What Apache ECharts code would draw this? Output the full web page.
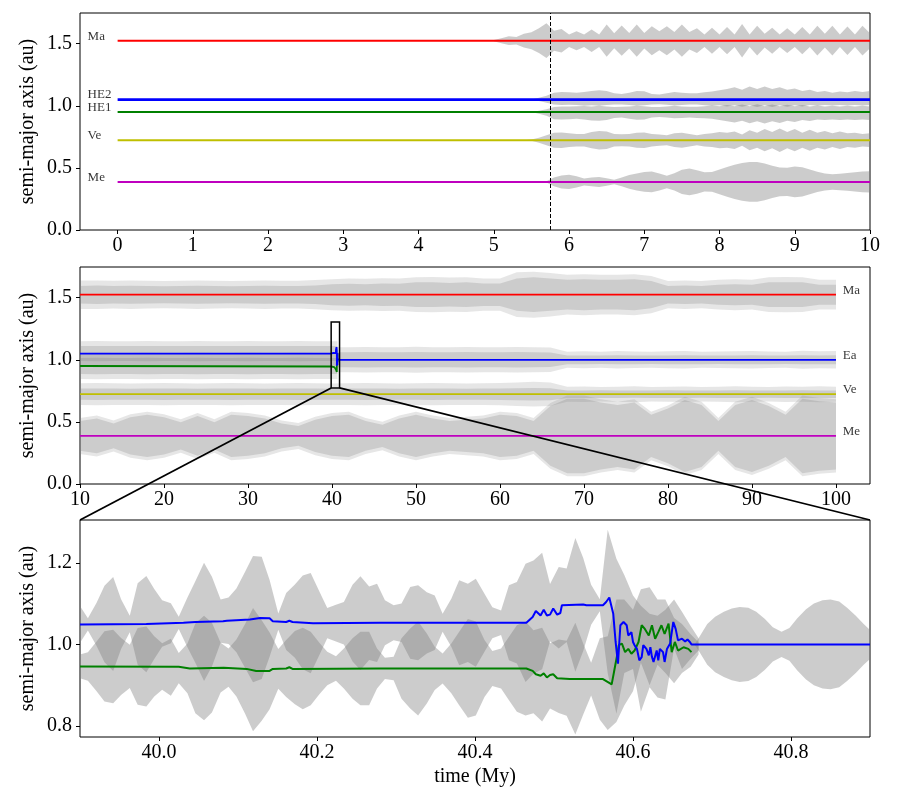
<!DOCTYPE html>
<html>
<head>
<meta charset="utf-8">
<script src="https://cdn.jsdelivr.net/npm/echarts@6/dist/echarts.min.js"></script>
<style>html,body{margin:0;padding:0;background:#fff}#main{width:900px;height:802px}</style>
</head>
<body>
<div id="main"></div>
<script>
// ---------- data ----------
// top panel: 0-10 My, HE1/HE2 still separate
var namesTop = ['Ma', 'HE2', 'HE1', 'Ve', 'Me'];
var aTop = [1.524, 1.05, 0.95, 0.723, 0.387];
var tLineTop = [0, 10];
var tSplit = 5.745; // dashed line
var tTop = [5.0,5.1,5.2,5.3,5.4,5.5,5.6,5.7,5.8,5.9,6.0,6.1,6.2,6.3,6.4,6.5,6.6,6.7,6.8,6.9,7.0,7.1,7.2,7.3,7.4,7.5,7.6,7.7,7.8,7.9,8.0,8.1,8.2,8.3,8.4,8.5,8.6,8.7,8.8,8.9,9.0,9.1,9.2,9.3,9.4,9.5,9.6,9.7,9.8,9.9,10.0];
var dMaTop = [0.005,0.02,0.035,0.03,0.055,0.068,0.1,0.14,0.08,0.095,0.05,0.076,0.05,0.09,0.05,0.13,0.06,0.122,0.062,0.13,0.062,0.117,0.076,0.117,0.07,0.13,0.07,0.1,0.05,0.105,0.05,0.11,0.05,0.135,0.05,0.12,0.055,0.105,0.05,0.1,0.05,0.11,0.05,0.12,0.055,0.12,0.05,0.115,0.05,0.12,0.06];
var dHE2upTop = [0,0,0,0,0,0,0.015,0.03,0.055,0.062,0.058,0.055,0.06,0.07,0.075,0.07,0.05,0.045,0.055,0.07,0.068,0.045,0.04,0.05,0.062,0.055,0.05,0.05,0.058,0.065,0.075,0.085,0.1,0.08,0.105,0.085,0.105,0.085,0.1,0.08,0.09,0.07,0.08,0.062,0.07,0.055,0.065,0.058,0.07,0.06,0.07];
var dHE2dnTop = [0,0,0,0,0,0,0.012,0.025,0.04,0.044,0.042,0.044,0.05,0.045,0.05,0.044,0.04,0.04,0.044,0.05,0.045,0.04,0.038,0.042,0.048,0.044,0.04,0.04,0.045,0.05,0.045,0.055,0.045,0.058,0.045,0.06,0.045,0.06,0.045,0.058,0.045,0.055,0.044,0.05,0.044,0.048,0.044,0.048,0.044,0.048,0.044];
var dHE1upTop = [0,0,0,0,0,0,0.01,0.022,0.04,0.045,0.044,0.046,0.048,0.044,0.05,0.045,0.04,0.042,0.045,0.05,0.046,0.04,0.04,0.044,0.05,0.045,0.042,0.042,0.046,0.052,0.046,0.056,0.046,0.06,0.046,0.062,0.046,0.06,0.046,0.058,0.046,0.056,0.045,0.052,0.045,0.05,0.045,0.05,0.045,0.05,0.045];
var dHE1dnTop = [0,0,0,0,0,0,0.015,0.03,0.058,0.06,0.058,0.055,0.06,0.068,0.07,0.065,0.048,0.045,0.055,0.062,0.06,0.045,0.04,0.045,0.05,0.048,0.045,0.048,0.05,0.055,0.065,0.075,0.085,0.07,0.09,0.075,0.092,0.075,0.088,0.07,0.08,0.065,0.072,0.06,0.065,0.06,0.065,0.06,0.065,0.06,0.065];
var dVeTop = [0,0,0,0,0,0.005,0.02,0.04,0.06,0.062,0.055,0.05,0.05,0.065,0.075,0.07,0.05,0.048,0.05,0.06,0.062,0.05,0.045,0.04,0.055,0.06,0.05,0.04,0.05,0.055,0.065,0.06,0.07,0.045,0.08,0.06,0.09,0.065,0.095,0.065,0.09,0.06,0.085,0.06,0.075,0.055,0.07,0.055,0.06,0.05,0.055];
var dMeTop = [0,0,0,0,0,0,0,0.005,0.035,0.052,0.057,0.045,0.028,0.035,0.04,0.03,0.018,0.035,0.055,0.068,0.08,0.083,0.068,0.05,0.07,0.098,0.108,0.095,0.078,0.08,0.1,0.12,0.138,0.152,0.16,0.16,0.148,0.13,0.116,0.114,0.124,0.118,0.1,0.082,0.068,0.062,0.066,0.072,0.078,0.083,0.086];

// middle panel: 10-100 My (core = dense part, peak = spike tips)
var namesMid = ['Ma', 'Ea', 'Ve', 'Me'];
var aMid = [1.524, 1.0, 0.723, 0.387];
var tLineMid = [10, 100];
var tMid = [10,12,14,16,18,20,22,24,26,28,30,32,34,36,38,40,42,44,46,48,50,52,54,56,58,60,62,64,66,68,70,72,74,76,78,80,82,84,86,88,90,92,94,96,98,100];
var cMaMid = [0.07,0.075,0.07,0.072,0.07,0.068,0.07,0.072,0.07,0.068,0.07,0.072,0.07,0.07,0.075,0.085,0.088,0.085,0.09,0.088,0.1,0.1,0.095,0.1,0.09,0.09,0.13,0.14,0.13,0.12,0.125,0.12,0.12,0.125,0.11,0.07,0.075,0.07,0.08,0.085,0.08,0.1,0.1,0.1,0.08,0.08];
var pMaMid = [0.115,0.115,0.112,0.115,0.112,0.11,0.112,0.115,0.112,0.11,0.112,0.115,0.112,0.112,0.118,0.125,0.13,0.128,0.132,0.13,0.14,0.142,0.138,0.14,0.13,0.13,0.18,0.185,0.175,0.16,0.165,0.16,0.16,0.165,0.15,0.11,0.115,0.11,0.12,0.125,0.12,0.14,0.142,0.14,0.12,0.12];
var tMidHE = [10,12,14,16,18,20,22,24,26,28,30,32,34,36,38,40,40.65];
var cHE2Mid = [0.06,0.062,0.06,0.06,0.062,0.06,0.06,0.062,0.06,0.06,0.062,0.06,0.06,0.062,0.06,0.06,0.06];
var pHE2Mid = [0.1,0.102,0.1,0.1,0.102,0.1,0.1,0.102,0.1,0.1,0.102,0.1,0.1,0.102,0.1,0.1,0.1];
var cHE1Mid = [0.065,0.066,0.065,0.064,0.066,0.065,0.065,0.066,0.064,0.065,0.066,0.065,0.065,0.066,0.065,0.064,0.065];
var pHE1Mid = [0.105,0.106,0.105,0.104,0.106,0.105,0.105,0.106,0.104,0.105,0.106,0.105,0.105,0.106,0.105,0.104,0.105];
var tMidEa = [40.67,42,44,46,48,50,52,54,56,58,60,62,64,66,68,70,72,74,76,78,80,82,84,86,88,90,92,94,96,98,100];
var cEaMid = [0.06,0.06,0.062,0.06,0.06,0.062,0.06,0.06,0.062,0.06,0.06,0.062,0.06,0.058,0.035,0.035,0.034,0.036,0.035,0.034,0.035,0.036,0.035,0.034,0.035,0.036,0.035,0.034,0.036,0.035,0.036];
var pEaMid = [0.1,0.1,0.102,0.1,0.1,0.104,0.1,0.1,0.102,0.1,0.1,0.102,0.1,0.098,0.065,0.068,0.064,0.07,0.066,0.064,0.068,0.07,0.065,0.066,0.068,0.07,0.066,0.065,0.072,0.068,0.07];
var cVeMid = [0.045,0.046,0.045,0.044,0.045,0.046,0.045,0.044,0.045,0.046,0.045,0.044,0.045,0.046,0.045,0.044,0.045,0.046,0.045,0.044,0.045,0.046,0.045,0.044,0.045,0.046,0.048,0.05,0.048,0.03,0.03,0.031,0.03,0.029,0.03,0.031,0.03,0.029,0.03,0.031,0.03,0.029,0.03,0.031,0.03,0.03];
var pVeMid = [0.088,0.09,0.088,0.086,0.088,0.09,0.088,0.086,0.088,0.09,0.088,0.086,0.088,0.09,0.088,0.086,0.088,0.09,0.088,0.086,0.088,0.09,0.088,0.086,0.088,0.09,0.095,0.1,0.095,0.06,0.062,0.058,0.06,0.064,0.058,0.06,0.062,0.058,0.06,0.064,0.06,0.058,0.062,0.06,0.064,0.06];
var cMeMid = [0.12,0.14,0.1,0.15,0.17,0.15,0.11,0.16,0.11,0.17,0.16,0.14,0.1,0.08,0.13,0.16,0.17,0.12,0.09,0.14,0.17,0.14,0.12,0.13,0.14,0.17,0.16,0.12,0.24,0.3,0.3,0.27,0.25,0.27,0.17,0.22,0.29,0.25,0.12,0.25,0.29,0.24,0.17,0.3,0.28,0.27];
var pMeMid = [0.145,0.165,0.125,0.175,0.195,0.175,0.135,0.185,0.135,0.195,0.185,0.165,0.125,0.105,0.155,0.185,0.195,0.145,0.115,0.165,0.195,0.165,0.145,0.155,0.165,0.195,0.185,0.145,0.265,0.325,0.325,0.295,0.275,0.295,0.195,0.245,0.315,0.275,0.145,0.275,0.315,0.265,0.195,0.325,0.305,0.295];

// bottom panel: zoom on the HE1/HE2 merger
var zoomX = [39.9, 40.9];
var zoomY = [0.773, 1.305];
var tZoom = [39.900,39.910,39.921,39.931,39.942,39.952,39.963,39.973,39.984,39.994,40.004,40.015,40.025,40.036,40.046,40.057,40.067,40.078,40.088,40.098,40.109,40.119,40.130,40.140,40.151,40.161,40.172,40.182,40.192,40.203,40.213,40.224,40.234,40.245,40.255,40.266,40.276,40.286,40.297,40.307,40.318,40.328,40.339,40.349,40.359,40.370,40.380,40.391,40.401,40.412,40.422,40.433,40.443,40.453,40.464,40.474,40.485,40.495,40.506,40.516,40.527,40.537,40.547,40.558,40.568,40.579,40.589,40.600,40.610,40.621,40.631,40.641,40.652,40.662,40.673,40.683];
var aHE2z = [1.049,1.049,1.049,1.05,1.05,1.05,1.05,1.05,1.05,1.05,1.051,1.052,1.053,1.054,1.055,1.055,1.056,1.057,1.058,1.059,1.06,1.062,1.065,1.064,1.056,1.056,1.057,1.054,1.052,1.052,1.052,1.052,1.052,1.052,1.052,1.052,1.053,1.053,1.053,1.053,1.053,1.053,1.053,1.053,1.053,1.053,1.053,1.053,1.053,1.053,1.053,1.053,1.053,1.053,1.053,1.067,1.082,1.078,1.09,1.096,1.097,1.098,1.097,1.096,1.105,1.02,1.05,1.03,0.965,0.985,0.97,0.975,1.05,1.01,1.005,1.0];
var aHE1z = [0.946,0.946,0.946,0.946,0.946,0.946,0.946,0.946,0.946,0.946,0.946,0.944,0.942,0.941,0.941,0.942,0.943,0.943,0.943,0.942,0.94,0.938,0.936,0.935,0.94,0.941,0.943,0.941,0.941,0.941,0.941,0.941,0.941,0.941,0.941,0.941,0.941,0.941,0.941,0.941,0.941,0.941,0.941,0.941,0.941,0.941,0.941,0.941,0.941,0.941,0.941,0.941,0.941,0.941,0.941,0.933,0.926,0.923,0.922,0.917,0.916,0.915,0.915,0.915,0.905,0.96,0.98,0.985,1.045,1.02,1.03,1.02,0.985,0.99,0.985,0.99];
var dHE2z = [0.045,0.015,0.053,0.094,0.115,0.061,0.02,0.1,0.118,0.086,0.057,0.049,0.015,0.061,0.1,0.145,0.11,0.053,0.057,0.078,0.118,0.155,0.15,0.094,0.02,0.07,0.09,0.115,0.123,0.078,0.037,0.045,0.052,0.094,0.115,0.09,0.096,0.055,0.043,0.047,0.088,0.092,0.075,0.067,0.022,0.059,0.104,0.096,0.108,0.071,0.038,0.03,0.092,0.1,0.145,0.139,0.143,0.07,0.1,0.09,0.164,0.114,0.049,0.015,0.176,0.19,0.12,0.09,0.13,0.09,0.1,0.11,0.06,0.07,0.04,0.015];
var dHE1z = [0.029,0.035,0.061,0.086,0.09,0.07,0.053,0.094,0.098,0.074,0.057,0.07,0.037,0.061,0.11,0.128,0.11,0.061,0.047,0.07,0.11,0.151,0.123,0.094,0.049,0.07,0.09,0.1,0.09,0.063,0.041,0.03,0.049,0.074,0.09,0.09,0.049,0.026,0.029,0.074,0.098,0.115,0.086,0.053,0.037,0.061,0.09,0.121,0.115,0.07,0.043,0.049,0.078,0.106,0.115,0.102,0.115,0.08,0.09,0.092,0.137,0.087,0.04,0.1,0.115,0.15,0.13,0.1,0.09,0.12,0.08,0.09,0.08,0.06,0.04,0.015];
var tEaZ = [40.678,40.683,40.694,40.704,40.715,40.725,40.735,40.746,40.756,40.767,40.777,40.788,40.798,40.808,40.819,40.829,40.840,40.850,40.861,40.871,40.882,40.892,40.902];
var dEaZ = [0.0,0.015,0.05,0.068,0.08,0.088,0.092,0.09,0.08,0.062,0.042,0.031,0.04,0.064,0.086,0.1,0.108,0.11,0.105,0.09,0.07,0.05,0.032];
// semi-major axis of HE2 (then Ea) and HE1 through the merger
var tBlue = [39.900,39.984,40.031,40.046,40.081,40.086,40.115,40.128,40.140,40.144,40.161,40.165,40.169,40.195,40.280,40.465,40.473,40.477,40.483,40.487,40.491,40.495,40.499,40.504,40.508,40.510,40.537,40.539,40.541,40.562,40.566,40.570,40.575,40.578,40.581,40.584,40.588,40.592,40.594,40.598,40.600,40.602,40.605,40.608,40.611,40.613,40.617,40.620,40.622,40.624,40.626,40.630,40.632,40.634,40.638,40.640,40.643,40.647,40.651,40.654,40.657,40.662,40.666,40.669,40.672,40.674,40.900];
var aBlue = [1.049,1.05,1.053,1.055,1.057,1.058,1.061,1.065,1.064,1.057,1.055,1.058,1.055,1.052,1.053,1.053,1.067,1.082,1.071,1.085,1.071,1.073,1.088,1.073,1.077,1.096,1.098,1.102,1.096,1.096,1.104,1.115,1.075,1.006,0.953,1.047,1.055,1.047,1.022,1.03,1.006,0.998,0.989,0.961,0.969,0.998,0.989,0.973,0.993,0.969,0.957,0.985,0.961,0.989,0.981,0.957,0.989,1.002,1.055,1.038,1.01,1.014,1.007,1.012,1.006,1.0,1.0];
var tGreen = [39.900,40.025,40.039,40.082,40.111,40.123,40.140,40.144,40.161,40.165,40.169,40.280,40.465,40.473,40.477,40.483,40.487,40.491,40.495,40.499,40.504,40.520,40.562,40.573,40.576,40.580,40.582,40.586,40.590,40.594,40.598,40.602,40.607,40.611,40.615,40.620,40.624,40.628,40.632,40.636,40.640,40.645,40.649,40.653,40.657,40.664,40.670,40.674];
var aGreen = [0.946,0.945,0.941,0.943,0.94,0.935,0.935,0.94,0.941,0.944,0.94,0.941,0.941,0.935,0.927,0.923,0.929,0.919,0.925,0.927,0.917,0.915,0.915,0.902,0.933,0.974,0.998,1.002,0.981,0.989,0.977,0.985,1.006,1.047,1.038,1.022,1.047,1.014,1.03,1.047,1.026,1.051,0.981,1.006,0.985,0.993,0.989,0.981];

// tick labels
var xTicksTop = [0,1,2,3,4,5,6,7,8,9,10];
var xTicksMid = [10,20,30,40,50,60,70,80,90,100];
var xTicksBot = [40.0,40.2,40.4,40.6,40.8];
var yTicksTop = [0.0,0.5,1.0,1.5];
var yTicksBot = [0.8,1.0,1.2];

// ---------- helpers ----------
var FONT = 'Liberation Serif';
var GRAY = 'rgba(128,128,128,';

function pairs(t, a) {
	return t.map(function (x, i) { return [x, Array.isArray(a) ? a[i] : a]; });
}

// filled band between a-dDn and a+dUp, drawn as one polygon
function band(gi, t, center, dUp, dDn, alpha) {
	var n = Math.min(t.length, dUp.length, dDn.length);
	var data = [];
	for (var i = 0; i < n; i++) {
		var c = Array.isArray(center) ? center[i] : center;
		data.push([t[i], c - dDn[i], c + dUp[i]]);
	}
	return {
		type: 'custom', xAxisIndex: gi, yAxisIndex: gi, silent: true, clip: true, z: 1,
		encode: {x: 0, y: [1, 2]},
		data: data,
		renderItem: function (params, api) {
			if (params.dataIndexInside !== 0) return null;
			var up = [], dn = [];
			for (var k = 0; k < params.dataInsideLength; k++) {
				up.push(api.coord([api.value(0, k), api.value(2, k)]));
				dn.push(api.coord([api.value(0, k), api.value(1, k)]));
			}
			return {
				type: 'polygon',
				shape: {points: up.concat(dn.reverse())},
				style: {fill: GRAY + alpha + ')', stroke: null}
			};
		}
	};
}

function line(gi, pts, color, w) {
	return {
		type: 'line', xAxisIndex: gi, yAxisIndex: gi, data: pts, symbol: 'none', showSymbol: false,
		silent: true, z: 3, lineStyle: {color: color, width: w}
	};
}

function labels(gi, x, names, vals) {
	return {
		type: 'scatter', xAxisIndex: gi, yAxisIndex: gi, symbolSize: 0.1, silent: true, z: 5,
		itemStyle: {color: 'rgba(0,0,0,0)'},
		data: names.map(function (n, i) { return {name: n, value: [x, vals[i]]}; }),
		label: {
			show: true, formatter: '{b}', position: 'right', distance: 0, verticalAlign: 'bottom',
			offset: [0, 2], color: '#000', fontFamily: FONT, fontSize: 13
		}
	};
}

function xAx(gi, min, max, ticks, digits, name) {
	return {
		type: 'value', gridIndex: gi, min: min, max: max,
		name: name || '', nameLocation: 'middle', nameGap: 30, nameMoveOverlap: false,
		nameTextStyle: {fontFamily: FONT, fontSize: 20, color: '#000'},
		axisLine: {show: false, onZero: false}, splitLine: {show: false},
		axisTick: {show: true, inside: false, length: 4, lineStyle: {color: '#000', width: 1}, customValues: ticks},
		axisLabel: {margin: 6, color: '#000', fontFamily: FONT, fontSize: 20, customValues: ticks,
			formatter: function (v) { return (+v).toFixed(digits); }}
	};
}

function yAx(gi, min, max, ticks) {
	return {
		type: 'value', gridIndex: gi, min: min, max: max,
		name: 'semi-major axis (au)', nameLocation: 'middle', nameGap: 42, nameMoveOverlap: false,
		nameTextStyle: {fontFamily: FONT, fontSize: 20, color: '#000'},
		axisLine: {show: false, onZero: false}, splitLine: {show: false},
		axisTick: {show: true, inside: false, length: 4, lineStyle: {color: '#000', width: 1}, customValues: ticks},
		axisLabel: {margin: 8, color: '#000', fontFamily: FONT, fontSize: 20, customValues: ticks,
			formatter: function (v) { return (+v).toFixed(1); }}
	};
}

function grid(top) {
	return {left: 80, right: 30, top: top, height: 217, show: true, borderColor: '#000', borderWidth: 1,
		containLabel: false, outerBoundsMode: 'none'};
}

// ---------- series ----------
var series = [];
// top
series.push(band(0, tTop, aTop[0], dMaTop, dMaTop, 0.4));
series.push(band(0, tTop, aTop[1], dHE2upTop, dHE2dnTop, 0.4));
series.push(band(0, tTop, aTop[2], dHE1upTop, dHE1dnTop, 0.4));
series.push(band(0, tTop, aTop[3], dVeTop, dVeTop, 0.4));
series.push(band(0, tTop, aTop[4], dMeTop, dMeTop, 0.4));
var topColors = ['#ff0000', '#0000ff', '#008000', '#bfbf00', '#bf00bf'];
var topWidths = [2, 2.6, 2.2, 2, 2];
aTop.forEach(function (a, i) {
	var s = line(0, pairs(tLineTop, a), topColors[i], topWidths[i]);
	if (i === 0) {
		s.markLine = {
			symbol: 'none', silent: true, label: {show: false}, animation: false,
			lineStyle: {color: '#000', width: 1, type: [4, 2]},
			data: [{xAxis: tSplit}]
		};
	}
	series.push(s);
});
series.push(labels(0, -0.4, namesTop, aTop));

// middle: spike tips (light) then dense core
[[tMid, aMid[0], pMaMid, cMaMid], [tMidHE, aTop[1], pHE2Mid, cHE2Mid], [tMidHE, aTop[2], pHE1Mid, cHE1Mid],
 [tMidEa, aMid[1], pEaMid, cEaMid], [tMid, aMid[2], pVeMid, cVeMid], [tMid, aMid[3], pMeMid, cMeMid]].forEach(function (b) {
	series.push(band(1, b[0], b[1], b[2], b[2], 0.2));
	series.push(band(1, b[0], b[1], b[3], b[3], 0.25));
});
series.push(line(1, pairs(tLineMid, aMid[0]), '#ff0000', 1.8));
series.push(line(1, pairs(tLineMid, aMid[2]), '#bfbf00', 1.8));
series.push(line(1, pairs(tLineMid, aMid[3]), '#bf00bf', 1.8));
series.push(line(1, [[tLineMid[0], aTop[2]]].concat(pairs(tGreen, aGreen)), '#008000', 1.8));
series.push(line(1, [[tLineMid[0], aTop[1]]].concat(pairs(tBlue, aBlue), [[tLineMid[1], aMid[1]]]), '#0000ff', 1.8));
series.push(labels(1, 100.8, namesMid, aMid));

// bottom
series.push(band(2, tZoom, aHE2z, dHE2z, dHE2z, 0.4));
series.push(band(2, tZoom, aHE1z, dHE1z, dHE1z, 0.4));
series.push(band(2, tEaZ, aMid[1], dEaZ, dEaZ, 0.4));
series.push(line(2, pairs(tGreen, aGreen), '#008000', 2));
series.push(line(2, pairs(tBlue, aBlue), '#0000ff', 2));

var chart = echarts.init(document.getElementById('main'), null, {renderer: 'canvas'});
chart.setOption({
	animation: false,
	backgroundColor: '#fff',
	grid: [grid(13), grid(267), grid(520)],
	xAxis: [
		xAx(0, -0.5, 10, xTicksTop, 0),
		xAx(1, 10, 104.05, xTicksMid, 0),
		xAx(2, zoomX[0], zoomX[1], xTicksBot, 1, 'time (My)')
	],
	yAxis: [
		yAx(0, 0, 1.747, yTicksTop),
		yAx(1, 0, 1.747, yTicksTop),
		yAx(2, zoomY[0], zoomY[1], yTicksBot)
	],
	series: series
});

// zoom box in the middle panel and connectors to the bottom panel
var p1 = chart.convertToPixel({xAxisIndex: 1, yAxisIndex: 1}, [zoomX[0], zoomY[0]]);
var p2 = chart.convertToPixel({xAxisIndex: 1, yAxisIndex: 1}, [zoomX[1], zoomY[1]]);
var q1 = chart.convertToPixel({xAxisIndex: 2, yAxisIndex: 2}, [zoomX[0], zoomY[1]]);
var q2 = chart.convertToPixel({xAxisIndex: 2, yAxisIndex: 2}, [zoomX[1], zoomY[1]]);
chart.setOption({
	graphic: [
		{type: 'rect', z: 100, silent: true, shape: {x: p1[0], y: p2[1], width: p2[0] - p1[0], height: p1[1] - p2[1]},
			style: {fill: 'none', stroke: '#000', lineWidth: 1.5}},
		{type: 'line', z: 100, silent: true, shape: {x1: p1[0], y1: p1[1], x2: q1[0], y2: q1[1]},
			style: {stroke: '#000', lineWidth: 1.8}},
		{type: 'line', z: 100, silent: true, shape: {x1: p2[0], y1: p1[1], x2: q2[0], y2: q2[1]},
			style: {stroke: '#000', lineWidth: 1.8}}
	]
});
</script>
</body>
</html>
